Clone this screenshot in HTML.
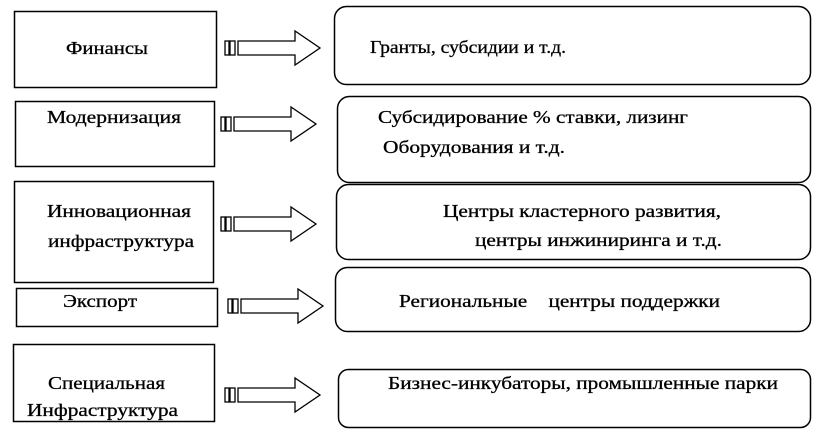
<!DOCTYPE html>
<html><head><meta charset="utf-8"><style>
html,body{margin:0;padding:0;background:#fff;}
svg{display:block;}
text{font-family:"Liberation Serif","DejaVu Serif",serif;font-size:18px;fill:#000;stroke:#000;stroke-width:0.3;}
</style></head><body>
<svg width="830" height="438" viewBox="0 0 830 438" xmlns="http://www.w3.org/2000/svg">
<g fill="#fff" stroke="#000" stroke-width="1.5">
<rect x="14.5" y="11.5" width="202" height="76"/>
<rect x="15.5" y="101.5" width="199" height="65"/>
<rect x="14.5" y="181.5" width="199" height="101"/>
<rect x="16.5" y="288.5" width="201" height="38"/>
<rect x="13.5" y="344.5" width="201" height="77"/>
<rect x="334.5" y="6.5" width="476" height="78" rx="12"/>
<rect x="337.5" y="96.5" width="473" height="86" rx="12"/>
<rect x="336.5" y="184.5" width="474" height="75" rx="12"/>
<rect x="335.5" y="267.5" width="475" height="64" rx="12"/>
<rect x="338.5" y="369.5" width="472" height="58" rx="10"/>
</g>
<g fill="#fff" stroke="#000" stroke-width="1.3">
<g transform="translate(225,48)"><rect x="0" y="-7" width="4" height="14"/><rect x="5" y="-7" width="5" height="14"/><path d="M13,-7 H70 V-17 L95,0 L70,17 V7 H13 Z"/></g>
<g transform="translate(221,124)"><rect x="0" y="-7" width="4" height="14"/><rect x="5" y="-7" width="5" height="14"/><path d="M13,-7 H70 V-17 L95,0 L70,17 V7 H13 Z"/></g>
<g transform="translate(221,224)"><rect x="0" y="-7" width="4" height="14"/><rect x="5" y="-7" width="5" height="14"/><path d="M13,-7 H70 V-17 L95,0 L70,17 V7 H13 Z"/></g>
<g transform="translate(228,306)"><rect x="0" y="-7" width="4" height="14"/><rect x="5" y="-7" width="5" height="14"/><path d="M13,-7 H70 V-17 L95,0 L70,17 V7 H13 Z"/></g>
<g transform="translate(225,395)"><rect x="0" y="-7" width="4" height="14"/><rect x="5" y="-7" width="5" height="14"/><path d="M13,-7 H70 V-17 L95,0 L70,17 V7 H13 Z"/></g>
</g>
<text x="66" y="54" textLength="82" lengthAdjust="spacingAndGlyphs">Финансы</text>
<text x="370" y="53" textLength="196" lengthAdjust="spacingAndGlyphs">Гранты, субсидии и т.д.</text>
<text x="47" y="123" textLength="134" lengthAdjust="spacingAndGlyphs">Модернизация</text>
<text x="378" y="123" textLength="310" lengthAdjust="spacingAndGlyphs">Субсидирование % ставки, лизинг</text>
<text x="383" y="153" textLength="182" lengthAdjust="spacingAndGlyphs">Оборудования и т.д.</text>
<text x="47" y="217" textLength="144" lengthAdjust="spacingAndGlyphs">Инновационная</text>
<text x="48" y="247" textLength="146" lengthAdjust="spacingAndGlyphs">инфраструктура</text>
<text x="443" y="217" textLength="278" lengthAdjust="spacingAndGlyphs">Центры кластерного развития,</text>
<text x="475" y="246" textLength="247" lengthAdjust="spacingAndGlyphs">центры инжиниринга и т.д.</text>
<text x="63" y="307" textLength="74" lengthAdjust="spacingAndGlyphs">Экспорт</text>
<text x="399" y="307" xml:space="preserve" textLength="321" lengthAdjust="spacingAndGlyphs">Региональные    центры поддержки</text>
<text x="48" y="389" textLength="117" lengthAdjust="spacingAndGlyphs">Специальная</text>
<text x="27" y="416" textLength="151" lengthAdjust="spacingAndGlyphs">Инфраструктура</text>
<text x="388" y="389" textLength="390" lengthAdjust="spacingAndGlyphs">Бизнес-инкубаторы, промышленные парки</text>
</svg>
</body></html>
